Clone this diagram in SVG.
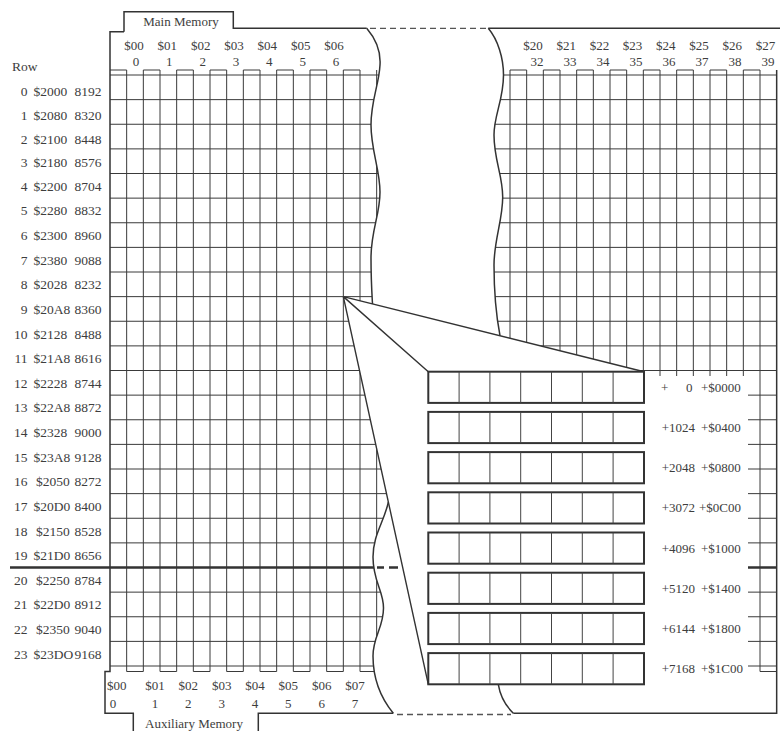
<svg xmlns="http://www.w3.org/2000/svg" width="780" height="731" viewBox="0 0 780 731">
<style>
.grid{fill:none;stroke:#3a3a3a;stroke-width:1}
.frame{fill:none;stroke:#333;stroke-width:1.5}
.dash{fill:none;stroke:#555;stroke-width:1.3;stroke-dasharray:6 4}
.cone{fill:none;stroke:#333;stroke-width:1.4}
.strip{fill:#fff;stroke:#333;stroke-width:2}
.div{stroke:#444;stroke-width:1}
text{font-family:"Liberation Serif","Times New Roman",serif;fill:#3d3d3d;font-size:13px}
.rl{font-size:13.5px}
.c{text-anchor:middle}
.e{text-anchor:end}
</style>
<rect width="780" height="731" fill="#fff"/>

<g id="left-grid" class="grid">
<path d="M126.67 70V671.5M143.33 70V671.5M160 70V671.5M176.67 70V671.5M193.33 70V671.5M210 70V671.5M226.67 70V671.5M243.33 70V671.5M260 70V671.5M276.67 70V671.5M293.33 70V671.5M310 70V671.5M326.67 70V671.5M343.33 70V671.5M360 70V671.5M376.67 70V671.5"/>
<path d="M110 70H126.67M143.33 70H160M176.67 70H193.33M210 70H226.67M243.33 70H260M276.67 70H293.33M310 70H326.67M343.33 70H360"/>
<path d="M126.67 671.5H143.33M160 671.5H176.67M193.33 671.5H210M226.67 671.5H243.33M260 671.5H276.67M293.33 671.5H310M326.67 671.5H343.33M360 671.5H376.67"/>
<path d="M110 75H392M110 99.63H392M110 124.25H392M110 148.88H392M110 173.5H392M110 198.13H392M110 222.75H392M110 247.38H392M110 272H392M110 296.63H392M110 321.25H392M110 345.88H392M110 370.5H392M110 395.13H392M110 419.75H392M110 444.38H392M110 469H392M110 493.63H392M110 518.25H392M110 542.88H392M110 567.5H392M110 592.13H392M110 616.75H392M110 641.38H392M110 666H392"/>
</g>

<g id="right-grid" class="grid">
<path d="M493.33 70V671.5M510 70V671.5M526.67 70V671.5M543.33 70V671.5M560 70V671.5M576.67 70V671.5M593.33 70V671.5M610 70V671.5M626.67 70V671.5M643.33 70V671.5M660 70V671.5M676.67 70V671.5M693.33 70V671.5M710 70V671.5M726.67 70V671.5M743.33 70V671.5M760 70V671.5"/>
<path d="M510 70H526.67M543.33 70H560M576.67 70H593.33M610 70H626.67M643.33 70H660M676.67 70H693.33M710 70H726.67M743.33 70H760"/>
<path d="M760 671.5H776.67"/>
<path d="M486 75H776.67M486 99.63H776.67M486 124.25H776.67M486 148.88H776.67M486 173.5H776.67M486 198.13H776.67M486 222.75H776.67M486 247.38H776.67M486 272H776.67M486 296.63H776.67M486 321.25H776.67M486 345.88H776.67M486 370.5H776.67M486 395.13H776.67M486 419.75H776.67M486 444.38H776.67M486 469H776.67M486 493.63H776.67M486 518.25H776.67M486 542.88H776.67M486 567.5H776.67M486 592.13H776.67M486 616.75H776.67M486 641.38H776.67M486 666H776.67"/>
</g>

<g id="break">
<path fill="#fff" stroke="none" d="M366.7,18 L366.7,28.3 C375,38 381,50 380,65 C379,85 371,100 371,125 C371,150 380,170 380,192 C380,215 371,230 371,258 C371,280 372,295 372.5,304 L388.4,502 C384,522 373,535 373,557 C373,582 383.5,590 383.5,608 C383.5,628 373,636 373,656 C373,678 380,697 393.3,713.3 L393.3,722 L513.3,722 L513.3,713.3 C506,706 500,695 498.3,684.3 L500,335.7 C497,320 494,295 494,265 C494,240 502.7,220 502.7,197 C502.7,175 494,160 494,135 C494,115 503.5,100 503.5,75 C503.5,58 498,40 488.3,28.3 L488.3,18 Z"/>
</g>

<g id="zoom-cone">
<path fill="#fff" stroke="none" d="M343.33,296.63 L644,371.7 L644,376 L748,376 L748,712.5 L428.3,712.5 L428.3,684.3 Z"/>
<path class="cone" d="M343.33,296.63 L644,371.7 M343.33,296.63 L428.3,371.7 M343.33,296.63 L428.3,684.3"/>
</g>

<g id="outline">
<path class="frame" d="M366.7,28.3 C375,38 381,50 380,65 C379,85 371,100 371,125 C371,150 380,170 380,192 C380,215 371,230 371,258 C371,280 372,295 372.5,304"/>
<path class="frame" d="M388.4,502 C384,522 373,535 373,557 C373,582 383.5,590 383.5,608 C383.5,628 373,636 373,656 C373,678 380,697 393.3,713.3"/>
<path class="frame" d="M488.3,28.3 C498,40 503.5,58 503.5,75 C503.5,100 494,115 494,135 C494,160 502.7,175 502.7,197 C502.7,220 494,240 494,265 C494,295 497,320 500,335.7"/>
<path class="frame" d="M498.3,684.3 C500,695 506,706 513.3,713.3"/>
<path class="frame" d="M124,31.7 L110,31.7 L110,671.5 L105,671.5 L105,713.3 L133.3,713.3 L133.3,732 M258.3,732 L258.3,713.3 L393.3,713.3"/>
<path class="frame" d="M124,31.7 L124,11.7 L233.3,11.7 L233.3,28.3 L366.7,28.3"/>
<path class="frame" d="M488.3,28.3 L780,28.3"/>
<path class="frame" d="M776.67,70 L776.67,713.3 L513.3,713.3"/>
<path class="dash" d="M370,28.3 H487"/>
<path class="dash" d="M397,714.5 H511"/>
<path fill="none" stroke="#333" stroke-width="2.4" d="M10,567.5 H374 M377,567.5 H384 M389,567.5 H398 M748,567.5 H776.67"/>
</g>

<g id="strips">
<g id="strip-0"><rect class="strip" x="428.3" y="371.7" width="215.7" height="31.2"/><path class="div" d="M459.1 371.7v31.2M489.9 371.7v31.2M520.7 371.7v31.2M551.5 371.7v31.2M582.3 371.7v31.2M613.1 371.7v31.2"/></g>
<g id="strip-1"><rect class="strip" x="428.3" y="411.9" width="215.7" height="31.2"/><path class="div" d="M459.1 411.9v31.2M489.9 411.9v31.2M520.7 411.9v31.2M551.5 411.9v31.2M582.3 411.9v31.2M613.1 411.9v31.2"/></g>
<g id="strip-2"><rect class="strip" x="428.3" y="452.1" width="215.7" height="31.2"/><path class="div" d="M459.1 452.1v31.2M489.9 452.1v31.2M520.7 452.1v31.2M551.5 452.1v31.2M582.3 452.1v31.2M613.1 452.1v31.2"/></g>
<g id="strip-3"><rect class="strip" x="428.3" y="492.3" width="215.7" height="31.2"/><path class="div" d="M459.1 492.3v31.2M489.9 492.3v31.2M520.7 492.3v31.2M551.5 492.3v31.2M582.3 492.3v31.2M613.1 492.3v31.2"/></g>
<g id="strip-4"><rect class="strip" x="428.3" y="532.5" width="215.7" height="31.2"/><path class="div" d="M459.1 532.5v31.2M489.9 532.5v31.2M520.7 532.5v31.2M551.5 532.5v31.2M582.3 532.5v31.2M613.1 532.5v31.2"/></g>
<g id="strip-5"><rect class="strip" x="428.3" y="572.7" width="215.7" height="31.2"/><path class="div" d="M459.1 572.7v31.2M489.9 572.7v31.2M520.7 572.7v31.2M551.5 572.7v31.2M582.3 572.7v31.2M613.1 572.7v31.2"/></g>
<g id="strip-6"><rect class="strip" x="428.3" y="612.9" width="215.7" height="31.2"/><path class="div" d="M459.1 612.9v31.2M489.9 612.9v31.2M520.7 612.9v31.2M551.5 612.9v31.2M582.3 612.9v31.2M613.1 612.9v31.2"/></g>
<g id="strip-7"><rect class="strip" x="428.3" y="653.1" width="215.7" height="31.2"/><path class="div" d="M459.1 653.1v31.2M489.9 653.1v31.2M520.7 653.1v31.2M551.5 653.1v31.2M582.3 653.1v31.2M613.1 653.1v31.2"/></g>
</g>

<g id="headers">
<text class="c" x="181" y="25.5">Main Memory</text>
<text class="c" x="134" y="49.5">$00</text><text class="c" x="167.3" y="49.5">$01</text><text class="c" x="200.7" y="49.5">$02</text><text class="c" x="234" y="49.5">$03</text><text class="c" x="267.3" y="49.5">$04</text><text class="c" x="300.7" y="49.5">$05</text><text class="c" x="334" y="49.5">$06</text>
<text class="c" x="136" y="66">0</text><text class="c" x="169.3" y="66">1</text><text class="c" x="202.7" y="66">2</text><text class="c" x="236" y="66">3</text><text class="c" x="269.3" y="66">4</text><text class="c" x="302.7" y="66">5</text><text class="c" x="336" y="66">6</text>
<text class="c" x="533" y="49.5">$20</text><text class="c" x="566.2" y="49.5">$21</text><text class="c" x="599.4" y="49.5">$22</text><text class="c" x="632.6" y="49.5">$23</text><text class="c" x="665.8" y="49.5">$24</text><text class="c" x="699" y="49.5">$25</text><text class="c" x="732.2" y="49.5">$26</text><text class="c" x="765.4" y="49.5">$27</text>
<text class="c" x="537" y="66">32</text><text class="c" x="570" y="66">33</text><text class="c" x="603" y="66">34</text><text class="c" x="636" y="66">35</text><text class="c" x="669" y="66">36</text><text class="c" x="702" y="66">37</text><text class="c" x="735" y="66">38</text><text class="c" x="768" y="66">39</text>
<text class="c" x="116.7" y="689.5">$00</text><text class="c" x="155" y="689.5">$01</text><text class="c" x="188.3" y="689.5">$02</text><text class="c" x="221.7" y="689.5">$03</text><text class="c" x="255" y="689.5">$04</text><text class="c" x="288.3" y="689.5">$05</text><text class="c" x="321.7" y="689.5">$06</text><text class="c" x="355" y="689.5">$07</text>
<text class="c" x="113" y="708">0</text><text class="c" x="155" y="708">1</text><text class="c" x="188.3" y="708">2</text><text class="c" x="221.7" y="708">3</text><text class="c" x="255" y="708">4</text><text class="c" x="288.3" y="708">5</text><text class="c" x="321.7" y="708">6</text><text class="c" x="355" y="708">7</text>
<text class="c" x="194" y="728">Auxiliary Memory</text>
</g>

<g id="row-labels" class="rl">
<text class="rl" x="12" y="71">Row</text>
<text class="rl e" x="27.5" y="96.3">0</text><text class="rl" x="33.5" y="96.3">$2000</text><text class="rl e" x="101.5" y="96.3">8192</text>
<text class="rl e" x="27.5" y="120.4">1</text><text class="rl" x="33.5" y="120.4">$2080</text><text class="rl e" x="101.5" y="120.4">8320</text>
<text class="rl e" x="27.5" y="143.6">2</text><text class="rl" x="33.5" y="143.6">$2100</text><text class="rl e" x="101.5" y="143.6">8448</text>
<text class="rl e" x="27.5" y="167.2">3</text><text class="rl" x="33.5" y="167.2">$2180</text><text class="rl e" x="101.5" y="167.2">8576</text>
<text class="rl e" x="27.5" y="190.8">4</text><text class="rl" x="33.5" y="190.8">$2200</text><text class="rl e" x="101.5" y="190.8">8704</text>
<text class="rl e" x="27.5" y="215.4">5</text><text class="rl" x="33.5" y="215.4">$2280</text><text class="rl e" x="101.5" y="215.4">8832</text>
<text class="rl e" x="27.5" y="240.1">6</text><text class="rl" x="33.5" y="240.1">$2300</text><text class="rl e" x="101.5" y="240.1">8960</text>
<text class="rl e" x="27.5" y="264.7">7</text><text class="rl" x="33.5" y="264.7">$2380</text><text class="rl e" x="101.5" y="264.7">9088</text>
<text class="rl e" x="27.5" y="289.3">8</text><text class="rl" x="33.5" y="289.3">$2028</text><text class="rl e" x="101.5" y="289.3">8232</text>
<text class="rl e" x="27.5" y="313.9">9</text><text class="rl" x="33.5" y="313.9">$20A8</text><text class="rl e" x="101.5" y="313.9">8360</text>
<text class="rl e" x="27.5" y="338.6">10</text><text class="rl" x="33.5" y="338.6">$2128</text><text class="rl e" x="101.5" y="338.6">8488</text>
<text class="rl e" x="27.5" y="363.2">11</text><text class="rl" x="33.5" y="363.2">$21A8</text><text class="rl e" x="101.5" y="363.2">8616</text>
<text class="rl e" x="27.5" y="387.8">12</text><text class="rl" x="33.5" y="387.8">$2228</text><text class="rl e" x="101.5" y="387.8">8744</text>
<text class="rl e" x="27.5" y="412.4">13</text><text class="rl" x="33.5" y="412.4">$22A8</text><text class="rl e" x="101.5" y="412.4">8872</text>
<text class="rl e" x="27.5" y="437.1">14</text><text class="rl" x="33.5" y="437.1">$2328</text><text class="rl e" x="101.5" y="437.1">9000</text>
<text class="rl e" x="27.5" y="461.7">15</text><text class="rl" x="33.5" y="461.7">$23A8</text><text class="rl e" x="101.5" y="461.7">9128</text>
<text class="rl e" x="27.5" y="486.3">16</text><text class="rl" x="36" y="486.3">$2050</text><text class="rl e" x="101.5" y="486.3">8272</text>
<text class="rl e" x="27.5" y="510.9">17</text><text class="rl" x="33.5" y="510.9">$20D0</text><text class="rl e" x="101.5" y="510.9">8400</text>
<text class="rl e" x="27.5" y="535.6">18</text><text class="rl" x="36" y="535.6">$2150</text><text class="rl e" x="101.5" y="535.6">8528</text>
<text class="rl e" x="27.5" y="560.2">19</text><text class="rl" x="33.5" y="560.2">$21D0</text><text class="rl e" x="101.5" y="560.2">8656</text>
<text class="rl e" x="27.5" y="584.8">20</text><text class="rl" x="36" y="584.8">$2250</text><text class="rl e" x="101.5" y="584.8">8784</text>
<text class="rl e" x="27.5" y="609.4">21</text><text class="rl" x="33.5" y="609.4">$22D0</text><text class="rl e" x="101.5" y="609.4">8912</text>
<text class="rl e" x="27.5" y="634.1">22</text><text class="rl" x="36" y="634.1">$2350</text><text class="rl e" x="101.5" y="634.1">9040</text>
<text class="rl e" x="27.5" y="658.7">23</text><text class="rl" x="33.5" y="658.7">$23DO</text><text class="rl e" x="101.5" y="658.7">9168</text>
</g>

<g id="offset-labels">
<text x="661" y="391.8">+</text><text class="e" x="692.5" y="391.8">0</text><text x="701" y="391.8">+$0000</text>
<text class="e" x="695" y="432">+1024</text><text x="701" y="432">+$0400</text>
<text class="e" x="695" y="472.2">+2048</text><text x="701" y="472.2">+$0800</text>
<text class="e" x="695" y="512.4">+3072</text><text x="699" y="512.4">+$0C00</text>
<text class="e" x="695" y="552.6">+4096</text><text x="701" y="552.6">+$1000</text>
<text class="e" x="695" y="592.8">+5120</text><text x="701" y="592.8">+$1400</text>
<text class="e" x="695" y="633">+6144</text><text x="701" y="633">+$1800</text>
<text class="e" x="695" y="673.2">+7168</text><text x="701" y="673.2">+$1C00</text>
</g>
</svg>
